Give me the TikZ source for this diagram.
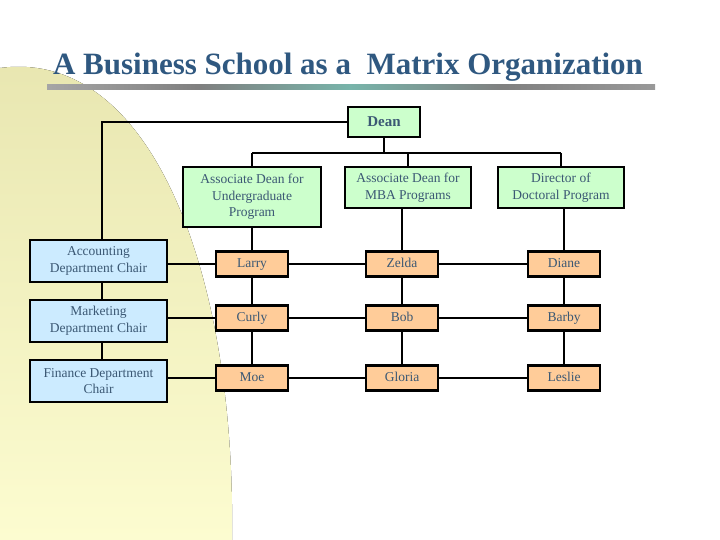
\documentclass[tikz,border=0pt]{standalone}
\usepackage{fontspec}
\setmainfont{Liberation Serif}
\begin{document}
\begin{tikzpicture}[x=1pt,y=-1pt,
  bx/.style={draw=black,line width=2.2pt,align=center,inner sep=0pt,font=\fontsize{13.5}{16.5}\selectfont,text=txt},
  g/.style={bx,fill=gbox},
  b/.style={bx,fill=bbox},
  o/.style={bx,fill=obox,text height=9.5pt,text depth=3pt},
  ln/.style={line width=2.2pt}]
\definecolor{txt}{HTML}{3B5874}
\definecolor{gbox}{HTML}{CCFFCC}
\definecolor{bbox}{HTML}{CCEBFF}
\definecolor{obox}{HTML}{FFCC99}
\useasboundingbox (0,0) rectangle (720,540);
\fill[top color={rgb,255:red,232;green,230;blue,176},bottom color={rgb,255:red,252;green,252;blue,208}]
  (0,68) .. controls (150,48) and (236,270) .. (232,540) -- (0,540) -- cycle;
\node[font=\bfseries\fontsize{31}{34}\selectfont,text={rgb,255:red,47;green,88;blue,128}] (title) at (348,67) {A Business School as a\ \ Matrix Organization};
\shade[left color=gray!70,right color={rgb,255:red,120;green,180;blue,170},middle color=gray] (47,85) rectangle (350,90);
\shade[left color={rgb,255:red,120;green,180;blue,170},right color=gray!80,middle color=gray] (350,85) rectangle (655,90);
\node[g,minimum width=72,minimum height=30,font=\bfseries\fontsize{15}{17}\selectfont] (dean) at (384,122) {Dean};
\node[g,minimum width=138,minimum height=60] (ug) at (252,197) {Associate Dean for\\Undergraduate\\Program};
\node[g,minimum width=126,minimum height=41] (mba) at (408,187.5) {Associate Dean for\\MBA Programs};
\node[g,minimum width=126,minimum height=41] (doc) at (561,187.5) {Director of\\Doctoral Program};
\node[b,minimum width=137,minimum height=42] (acc) at (98.5,261) {Accounting\\Department Chair};
\node[b,minimum width=137,minimum height=42] (mkt) at (98.5,321) {Marketing\\Department Chair};
\node[b,minimum width=137,minimum height=42] (fin) at (98.5,381) {Finance Department\\Chair};
\foreach \n/\t/\x/\y in {larry/Larry/252/264,zelda/Zelda/402/264,diane/Diane/564/264,
  curly/Curly/252/318,bob/Bob/402/318,barby/Barby/564/318,
  moe/Moe/252/378,gloria/Gloria/402/378,leslie/Leslie/564/378}
  \node[o,minimum width=72,minimum height=25] (\n) at (\x,\y) {\t};
\coordinate (j) at (384,153);
\draw[ln] (dean.south) -- (j);
\draw[ln] (ug.north|-j) -- (doc.north|-j);
\draw[ln] (ug.north|-j) -- (ug.north);
\draw[ln] (mba.north|-j) -- (mba.north);
\draw[ln] (doc.north|-j) -- (doc.north);
\draw[ln] (dean.west) -- (102,122) -- (acc.north-|102,0);
\draw[ln] (102,282) -- (mkt.north-|102,0);
\draw[ln] (102,342) -- (fin.north-|102,0);
\draw[ln] (ug.south) -- (larry.north);
\draw[ln] (larry) -- (curly) (curly) -- (moe);
\draw[ln] (mba.south-|zelda) -- (zelda.north);
\draw[ln] (zelda) -- (bob) (bob) -- (gloria);
\draw[ln] (doc.south-|diane) -- (diane.north);
\draw[ln] (diane) -- (barby) (barby) -- (leslie);
\draw[ln] (acc.east|-larry) -- (larry) (larry) -- (zelda) (zelda) -- (diane);
\draw[ln] (mkt.east|-curly) -- (curly) (curly) -- (bob) (bob) -- (barby);
\draw[ln] (fin.east|-moe) -- (moe) (moe) -- (gloria) (gloria) -- (leslie);
\end{tikzpicture}
\end{document}
